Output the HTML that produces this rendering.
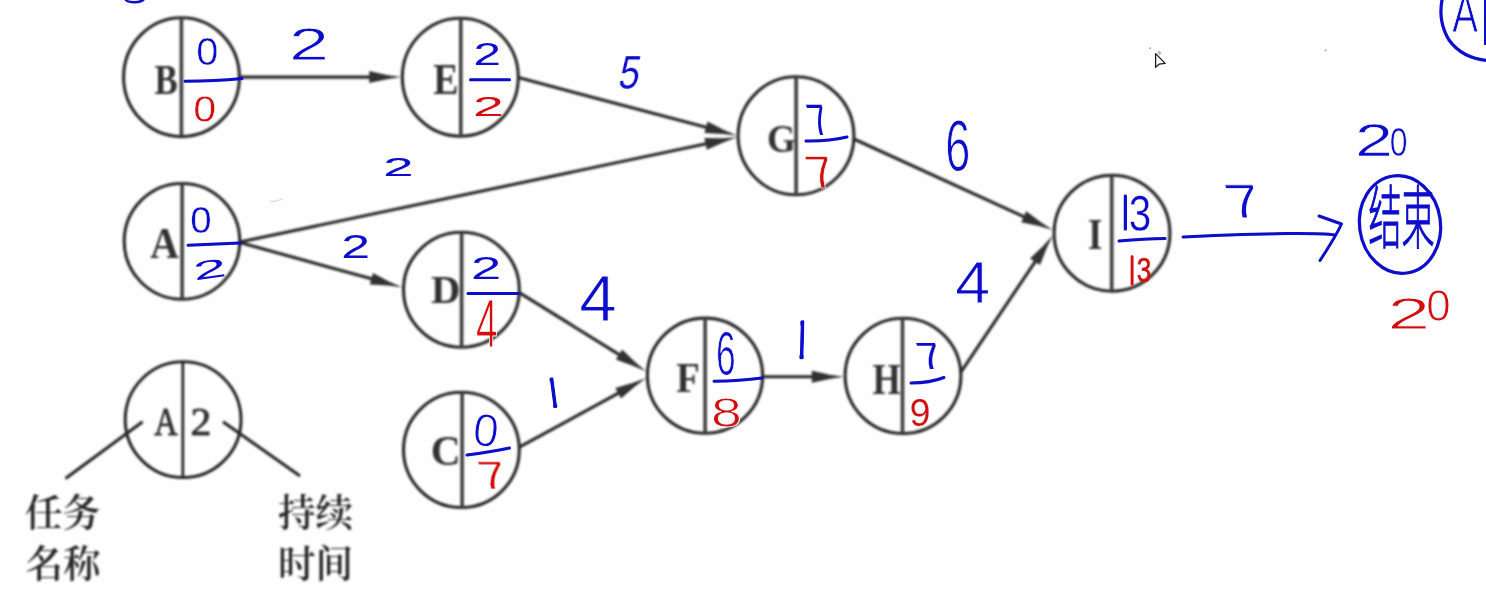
<!DOCTYPE html>
<html lang="zh">
<head>
<meta charset="utf-8">
<title>Activity network</title>
<style>
html,body{margin:0;padding:0;background:#fefefe;}
body{width:1486px;height:606px;overflow:hidden;}
svg{display:block;}
</style>
</head>
<body>
<svg width="1486" height="606" viewBox="0 0 1486 606">
<defs>
<filter id="soft" x="0" y="0" width="1486" height="606" filterUnits="userSpaceOnUse"><feGaussianBlur stdDeviation="0.95"/></filter>
<filter id="soft2" x="0" y="0" width="1486" height="606" filterUnits="userSpaceOnUse"><feGaussianBlur stdDeviation="0.4"/></filter>
</defs>
<rect width="1486" height="606" fill="#fefefe"/>
<g id="diagram" filter="url(#soft)">
<ellipse cx="181.5" cy="77.2" rx="57.9" ry="59.4" fill="none" stroke="#262626" stroke-width="3.1"/>
<line x1="181.4" y1="17.8" x2="181.4" y2="136.6" stroke="#3c3c3c" stroke-width="3.6" stroke-linecap="butt"/>
<ellipse cx="460.3" cy="77.2" rx="58.0" ry="59.0" fill="none" stroke="#262626" stroke-width="3.1"/>
<line x1="460.8" y1="18.2" x2="460.8" y2="136.2" stroke="#3c3c3c" stroke-width="3.6" stroke-linecap="butt"/>
<ellipse cx="182.0" cy="241.35" rx="57.8" ry="57.85" fill="none" stroke="#262626" stroke-width="3.1"/>
<line x1="182.1" y1="183.5" x2="182.1" y2="299.2" stroke="#3c3c3c" stroke-width="3.6" stroke-linecap="butt"/>
<ellipse cx="461.4" cy="289.7" rx="57.9" ry="57.5" fill="none" stroke="#262626" stroke-width="3.1"/>
<line x1="461.6" y1="232.2" x2="461.6" y2="347.2" stroke="#3c3c3c" stroke-width="3.6" stroke-linecap="butt"/>
<ellipse cx="796.0" cy="135.8" rx="57.9" ry="59.0" fill="none" stroke="#262626" stroke-width="3.1"/>
<line x1="796.1" y1="76.8" x2="796.1" y2="194.8" stroke="#3c3c3c" stroke-width="3.6" stroke-linecap="butt"/>
<ellipse cx="705.0" cy="375.65" rx="57.6" ry="57.55" fill="none" stroke="#262626" stroke-width="3.1"/>
<line x1="705.1" y1="318.1" x2="705.1" y2="433.2" stroke="#3c3c3c" stroke-width="3.6" stroke-linecap="butt"/>
<ellipse cx="903.0" cy="375.85" rx="57.9" ry="57.65" fill="none" stroke="#262626" stroke-width="3.1"/>
<line x1="902.5" y1="318.2" x2="902.5" y2="433.5" stroke="#3c3c3c" stroke-width="3.6" stroke-linecap="butt"/>
<ellipse cx="1112.0" cy="233.2" rx="57.9" ry="58.0" fill="none" stroke="#262626" stroke-width="3.1"/>
<line x1="1111.7" y1="175.2" x2="1111.7" y2="291.2" stroke="#3c3c3c" stroke-width="3.6" stroke-linecap="butt"/>
<ellipse cx="461.4" cy="449.85" rx="57.9" ry="57.65" fill="none" stroke="#262626" stroke-width="3.1"/>
<line x1="462.1" y1="392.2" x2="462.1" y2="507.5" stroke="#3c3c3c" stroke-width="3.6" stroke-linecap="butt"/>
<ellipse cx="183.1" cy="419.65" rx="57.9" ry="57.85" fill="none" stroke="#262626" stroke-width="3.1"/>
<line x1="182.8" y1="361.8" x2="182.8" y2="477.5" stroke="#262626" stroke-width="2.8" stroke-linecap="butt"/>
<line x1="142.6" y1="421.8" x2="65.5" y2="478.6" stroke="#262626" stroke-width="3.1" stroke-linecap="butt"/>
<line x1="223" y1="421.8" x2="300" y2="476" stroke="#262626" stroke-width="3.1" stroke-linecap="butt"/>
<line x1="239.4" y1="77.1" x2="372.2" y2="77.1" stroke="#262626" stroke-width="3.1" stroke-linecap="butt"/>
<polygon points="401.2,77.1 386.8,79.26 369.2,83.1 369.2,71.1 386.8,74.94" fill="#303030"/>
<line x1="518.4" y1="77.6" x2="708.87" y2="128.07" stroke="#262626" stroke-width="3.1" stroke-linecap="butt"/>
<polygon points="736.9,135.5 722.43,133.9 704.43,133.1 707.5,121.5 723.53,129.72" fill="#303030"/>
<line x1="239.8" y1="242.0" x2="708.52" y2="143.28" stroke="#262626" stroke-width="3.1" stroke-linecap="butt"/>
<polygon points="736.9,137.3 723.25,142.38 706.82,149.77 704.35,138.02 722.36,138.15" fill="#303030"/>
<line x1="239.8" y1="242.6" x2="374.24" y2="279.6" stroke="#262626" stroke-width="3.1" stroke-linecap="butt"/>
<polygon points="402.2,287.3 387.74,285.56 369.76,284.59 372.94,273.02 388.89,281.4" fill="#303030"/>
<line x1="519.3" y1="292.6" x2="621.56" y2="356.1" stroke="#262626" stroke-width="3.1" stroke-linecap="butt"/>
<polygon points="646.2,371.4 632.83,365.64 615.85,359.62 622.18,349.42 635.11,361.97" fill="#303030"/>
<line x1="519.3" y1="447.2" x2="620.74" y2="391.88" stroke="#262626" stroke-width="3.1" stroke-linecap="butt"/>
<polygon points="646.2,378.0 634.59,386.79 620.98,398.59 615.23,388.05 632.52,383.0" fill="#303030"/>
<line x1="762.6" y1="376.8" x2="814.8" y2="376.8" stroke="#262626" stroke-width="3.1" stroke-linecap="butt"/>
<polygon points="843.8,376.8 829.4,378.96 811.8,382.8 811.8,370.8 829.4,374.64" fill="#303030"/>
<line x1="853.9" y1="139.0" x2="1026.43" y2="217.93" stroke="#262626" stroke-width="3.1" stroke-linecap="butt"/>
<polygon points="1052.8,230.0 1038.81,225.97 1021.2,222.14 1026.2,211.23 1040.6,222.04" fill="#303030"/>
<line x1="960.9" y1="372.2" x2="1036.73" y2="259.28" stroke="#262626" stroke-width="3.1" stroke-linecap="butt"/>
<polygon points="1052.9,235.2 1046.67,248.36 1040.04,265.11 1030.08,258.42 1043.08,245.95" fill="#303030"/>
<text transform="translate(165.85 79.8) scale(0.3489 0.4316) translate(-32.8 32.6)" font-size="100" font-family='"Liberation Serif", serif' font-weight="bold" fill="#303030">B</text>
<text transform="translate(445.15 79.85) scale(0.379 0.4351) translate(-31.65 32.75)" font-size="100" font-family='"Liberation Serif", serif' font-weight="bold" fill="#303030">E</text>
<text transform="translate(164.7 243.2) scale(0.3972 0.4394) translate(-36.25 33.0)" font-size="100" font-family='"Liberation Serif", serif' font-weight="bold" fill="#303030">A</text>
<text transform="translate(445.05 289.45) scale(0.4076 0.4033) translate(-34.55 32.65)" font-size="100" font-family='"Liberation Serif", serif' font-weight="bold" fill="#303030">D</text>
<text transform="translate(781.8 139.1) scale(0.3709 0.4048) translate(-39.95 32.6)" font-size="100" font-family='"Liberation Serif", serif' font-weight="bold" fill="#303030">G</text>
<text transform="translate(687.5 378.45) scale(0.3846 0.4137) translate(-29.0 32.75)" font-size="100" font-family='"Liberation Serif", serif' font-weight="bold" fill="#303030">F</text>
<text transform="translate(886.5 379.25) scale(0.3629 0.4382) translate(-38.9 32.75)" font-size="100" font-family='"Liberation Serif", serif' font-weight="bold" fill="#303030">H</text>
<text transform="translate(1095.1 234.95) scale(0.3676 0.4351) translate(-19.45 32.75)" font-size="100" font-family='"Liberation Serif", serif' font-weight="bold" fill="#303030">I</text>
<text transform="translate(445.3 450.85) scale(0.4154 0.4241) translate(-34.75 32.6)" font-size="100" font-family='"Liberation Serif", serif' font-weight="bold" fill="#303030">C</text>
<text transform="translate(165.9 422.0) scale(0.3248 0.3924) translate(-36.25 33.0)" font-size="100" font-family='"Liberation Serif", serif' font-weight="normal" fill="#303030" stroke="#303030" stroke-width="0.9" vector-effect="non-scaling-stroke" stroke-linejoin="round">A</text>
<text transform="translate(200.8 422.0) scale(0.4165 0.3912) translate(-24.45 33.1)" font-size="100" font-family='"Liberation Serif", serif' font-weight="normal" fill="#303030" stroke="#303030" stroke-width="0.9" vector-effect="non-scaling-stroke" stroke-linejoin="round">2</text>
<text x="25" y="526" font-size="37.6" font-family='"Liberation Serif", "Noto Serif CJK SC", serif' font-weight="600" fill="#262626">任务</text>
<text x="25.5" y="577" font-size="37.6" font-family='"Liberation Serif", "Noto Serif CJK SC", serif' font-weight="600" fill="#262626">名称</text>
<text x="278" y="526" font-size="37.6" font-family='"Liberation Serif", "Noto Serif CJK SC", serif' font-weight="600" fill="#262626">持续</text>
<text x="278" y="577" font-size="37.6" font-family='"Liberation Serif", "Noto Serif CJK SC", serif' font-weight="600" fill="#262626">时间</text>
</g>
<g id="ink" filter="url(#soft2)">
<path d="M185 81.2 Q215 81 242 78.4" fill="none" stroke="#0808cc" stroke-width="3.0" stroke-linecap="round" stroke-linejoin="round"/>
<path d="M470.5 79.7 L509.5 79.7" fill="none" stroke="#0808cc" stroke-width="3.0" stroke-linecap="round" stroke-linejoin="round"/>
<path d="M188 245.2 Q215 244 240 243" fill="none" stroke="#0808cc" stroke-width="3.0" stroke-linecap="round" stroke-linejoin="round"/>
<path d="M468 293.6 L518 293.6" fill="none" stroke="#0808cc" stroke-width="3.0" stroke-linecap="round" stroke-linejoin="round"/>
<path d="M806 141 Q828 141.5 847 137" fill="none" stroke="#0808cc" stroke-width="3.0" stroke-linecap="round" stroke-linejoin="round"/>
<path d="M714 381.2 Q740 381 762 378" fill="none" stroke="#0808cc" stroke-width="3.0" stroke-linecap="round" stroke-linejoin="round"/>
<path d="M911 383 Q930 383 944 377.5" fill="none" stroke="#0808cc" stroke-width="3.0" stroke-linecap="round" stroke-linejoin="round"/>
<path d="M1119 241 Q1145 239 1165 238.6" fill="none" stroke="#0808cc" stroke-width="3.0" stroke-linecap="round" stroke-linejoin="round"/>
<path d="M467 455 Q490 452 509.5 448" fill="none" stroke="#0808cc" stroke-width="3.0" stroke-linecap="round" stroke-linejoin="round"/>
<text transform="translate(207.25 51.5) scale(0.3979 0.3887) translate(-27.8 34.4)" font-size="100" font-family='"Liberation Sans", sans-serif' font-weight="normal" fill="#0808cc" stroke="#fefefe" stroke-width="0.52" vector-effect="non-scaling-stroke" stroke-linejoin="round">0</text>
<text transform="translate(204.85 109.05) rotate(3) scale(0.4086 0.3606) translate(-27.8 34.4)" font-size="100" font-family='"Liberation Sans", sans-serif' font-weight="normal" fill="#d40a0a" stroke="#fefefe" stroke-width="0.43" vector-effect="non-scaling-stroke" stroke-linejoin="round">0</text>
<text transform="translate(308.9 43.95) scale(0.7193 0.457) translate(-27.8 34.9)" font-size="100" font-family='"Liberation Sans", sans-serif' font-weight="normal" fill="#0808cc" stroke="#fefefe" stroke-width="1.0" vector-effect="non-scaling-stroke" stroke-linejoin="round">2</text>
<text transform="translate(487.25 53.9) scale(0.4925 0.3117) translate(-27.8 34.9)" font-size="100" font-family='"Liberation Sans", sans-serif' font-weight="normal" fill="#0808cc">2</text>
<text transform="translate(488.35 106.4) scale(0.5547 0.2836) translate(-27.8 34.9)" font-size="100" font-family='"Liberation Sans", sans-serif' font-weight="normal" fill="#d40a0a">2</text>
<text transform="translate(630.3 72.35) skewX(-10) scale(0.3741 0.48) translate(-27.7 33.9)" font-size="100" font-family='"Liberation Sans", sans-serif' font-weight="normal" fill="#0808cc" stroke="#fefefe" stroke-width="0.21" vector-effect="non-scaling-stroke" stroke-linejoin="round">5</text>
<text transform="translate(398.5 166.55) scale(0.5446 0.2598) translate(-27.8 34.9)" font-size="100" font-family='"Liberation Sans", sans-serif' font-weight="normal" fill="#0808cc" stroke="#0808cc" stroke-width="0.17" vector-effect="non-scaling-stroke" stroke-linejoin="round">2</text>
<text transform="translate(201.0 220.2) scale(0.3839 0.3665) translate(-27.8 34.4)" font-size="100" font-family='"Liberation Sans", sans-serif' font-weight="normal" fill="#0808cc" stroke="#fefefe" stroke-width="0.35" vector-effect="non-scaling-stroke" stroke-linejoin="round">0</text>
<text transform="translate(209.65 269.1) rotate(-8) scale(0.5982 0.2604) translate(-27.8 34.9)" font-size="100" font-family='"Liberation Sans", sans-serif' font-weight="normal" fill="#0808cc">2</text>
<text transform="translate(355.55 246.8) scale(0.5179 0.3283) translate(-27.8 34.9)" font-size="100" font-family='"Liberation Sans", sans-serif' font-weight="normal" fill="#0808cc">2</text>
<text transform="translate(486.15 268.05) scale(0.5435 0.3063) translate(-27.8 34.9)" font-size="100" font-family='"Liberation Sans", sans-serif' font-weight="normal" fill="#0808cc">2</text>
<text transform="translate(486.7 323.0) scale(0.3889 0.689) translate(-27.5 34.4)" font-size="100" font-family='"Liberation Sans", sans-serif' font-weight="normal" fill="#d40a0a" stroke="#fefefe" stroke-width="1.0" vector-effect="non-scaling-stroke" stroke-linejoin="round">4</text>
<text transform="translate(597.9 298.75) scale(0.6746 0.6555) translate(-27.5 34.4)" font-size="100" font-family='"Liberation Sans", sans-serif' font-weight="normal" fill="#0808cc" stroke="#fefefe" stroke-width="1.0" vector-effect="non-scaling-stroke" stroke-linejoin="round">4</text>
<text transform="translate(818.67 119.65) skewX(18) scale(0.3406 0.4404) translate(-27.85 34.4)" font-size="100" font-family='"Liberation Sans", sans-serif' font-weight="normal" fill="#0808cc">7</text>
<text transform="translate(820.94 172.3) skewX(18) scale(0.4853 0.4605) translate(-27.85 34.4)" font-size="100" font-family='"Liberation Sans", sans-serif' font-weight="normal" fill="#d40a0a" stroke="#fefefe" stroke-width="0.68" vector-effect="non-scaling-stroke" stroke-linejoin="round">7</text>
<text transform="translate(957.9 146.05) scale(0.4512 0.7133) translate(-28.15 34.4)" font-size="100" font-family='"Liberation Sans", sans-serif' font-weight="normal" fill="#0808cc" stroke="#fefefe" stroke-width="1.0" vector-effect="non-scaling-stroke" stroke-linejoin="round">6</text>
<text transform="translate(972.5 283.0) scale(0.6349 0.5959) translate(-27.5 34.4)" font-size="100" font-family='"Liberation Sans", sans-serif' font-weight="normal" fill="#0808cc" stroke="#fefefe" stroke-width="1.0" vector-effect="non-scaling-stroke" stroke-linejoin="round">4</text>
<clipPath id="pen1"><rect x="-2.1" y="-19.85" width="4.2" height="39.7" rx="1.8"/></clipPath>
<g transform="translate(802.0 339.85) rotate(1.5)" clip-path="url(#pen1)"><text transform="scale(0.4091 0.5683) translate(-29.5 34.4)" font-size="100" font-family='"Liberation Sans", sans-serif' font-weight="normal" fill="#0808cc">1</text></g>
<text transform="translate(726.0 353.85) scale(0.3534 0.6242) translate(-28.15 34.4)" font-size="100" font-family='"Liberation Sans", sans-serif' font-weight="normal" fill="#0808cc" stroke="#fefefe" stroke-width="0.89" vector-effect="non-scaling-stroke" stroke-linejoin="round">6</text>
<text transform="translate(726.45 412.25) scale(0.5553 0.4223) translate(-27.8 34.4)" font-size="100" font-family='"Liberation Sans", sans-serif' font-weight="normal" fill="#d40a0a" stroke="#fefefe" stroke-width="1.0" vector-effect="non-scaling-stroke" stroke-linejoin="round">8</text>
<text transform="translate(929.87 356.3) skewX(18) scale(0.4123 0.3788) translate(-27.85 34.4)" font-size="100" font-family='"Liberation Sans", sans-serif' font-weight="normal" fill="#0808cc">7</text>
<text transform="translate(920.05 412.85) scale(0.3784 0.3938) translate(-27.8 34.4)" font-size="100" font-family='"Liberation Sans", sans-serif' font-weight="normal" fill="#d40a0a" stroke="#fefefe" stroke-width="0.18" vector-effect="non-scaling-stroke" stroke-linejoin="round">9</text>
<clipPath id="pen2"><rect x="1123.4" y="194.5" width="3.6" height="35.9" rx="1.5"/><rect x="1129.5" y="194.8" width="20.8" height="37.4"/></clipPath>
<g clip-path="url(#pen2)"><text font-family='"Liberation Sans", sans-serif' font-weight="normal" fill="#0808cc" stroke="#fefefe" stroke-width="0.37" stroke-linejoin="round"><tspan x="1113.13" y="239.58" font-size="79.8" textLength="22.75" lengthAdjust="spacingAndGlyphs">1</tspan><tspan x="1128.78" y="230.88" font-size="50.53" textLength="22.49" lengthAdjust="spacingAndGlyphs">3</tspan></text></g>
<clipPath id="pen3"><rect x="1130.4" y="255.2" width="3.4" height="30.4" rx="1.5"/><rect x="1136.5" y="256.0" width="15.0" height="28.0"/></clipPath>
<g clip-path="url(#pen3)"><text font-family='"Liberation Sans", sans-serif' font-weight="normal" fill="#d40a0a" stroke="#d40a0a" stroke-width="0.62" stroke-linejoin="round"><tspan x="1122.8" y="293.79" font-size="68.8" textLength="17.54" lengthAdjust="spacingAndGlyphs">1</tspan><tspan x="1136.82" y="282.33" font-size="35.84" textLength="14.52" lengthAdjust="spacingAndGlyphs">3</tspan></text></g>
<text transform="translate(1243.47 201.7) skewX(16) scale(0.622 0.4826) translate(-27.85 34.4)" font-size="100" font-family='"Liberation Sans", sans-serif' font-weight="normal" fill="#0808cc" stroke="#fefefe" stroke-width="1.0" vector-effect="non-scaling-stroke" stroke-linejoin="round">7</text>
<clipPath id="pen4"><rect x="-2.1" y="-15.8" width="4.2" height="31.6" rx="1.8"/></clipPath>
<g transform="translate(553.4 392.7) rotate(-7.5)" clip-path="url(#pen4)"><text transform="scale(0.4091 0.4506) translate(-29.5 34.4)" font-size="100" font-family='"Liberation Sans", sans-serif' font-weight="normal" fill="#0808cc">1</text></g>
<text transform="translate(486.1 430.2) rotate(6) scale(0.4561 0.4605) translate(-27.8 34.4)" font-size="100" font-family='"Liberation Sans", sans-serif' font-weight="normal" fill="#0808cc" stroke="#fefefe" stroke-width="1.0" vector-effect="non-scaling-stroke" stroke-linejoin="round">0</text>
<text transform="translate(492.33 475.25) skewX(14) scale(0.4833 0.3937) translate(-27.85 34.4)" font-size="100" font-family='"Liberation Sans", sans-serif' font-weight="normal" fill="#d40a0a" stroke="#fefefe" stroke-width="0.39" vector-effect="non-scaling-stroke" stroke-linejoin="round">7</text>
<text font-family='"Liberation Sans", sans-serif' font-weight="normal" fill="#0808cc" stroke="#fefefe" stroke-width="0.66" stroke-linejoin="round"><tspan x="1355.05" y="156.43" font-size="46.08" textLength="37.99" lengthAdjust="spacingAndGlyphs">2</tspan><tspan x="1389.82" y="156.22" font-size="41.47" textLength="17.75" lengthAdjust="spacingAndGlyphs">0</tspan></text>
<text font-family='"Liberation Sans", sans-serif' font-weight="normal" fill="#d40a0a" stroke="#fefefe" stroke-width="1.0" stroke-linejoin="round"><tspan x="1387.22" y="329.0" font-size="45.13" textLength="43.16" lengthAdjust="spacingAndGlyphs">2</tspan><tspan x="1426.29" y="320.76" font-size="44.49" textLength="24.43" lengthAdjust="spacingAndGlyphs">0</tspan></text>
<path d="M1183 237 Q1250 234 1286 233.6 T1335 235" fill="none" stroke="#0808cc" stroke-width="3.0" stroke-linecap="round" stroke-linejoin="round"/>
<path d="M1319 216 L1341.5 224 Q1336 236 1320 260.5" fill="none" stroke="#0808cc" stroke-width="3.0" stroke-linecap="round" stroke-linejoin="round"/>
<ellipse cx="1400" cy="224.5" rx="40.5" ry="49" fill="none" stroke="#0808cc" stroke-width="3.2" transform="rotate(-8 1400 224.5)"/>
<text transform="translate(1401.5 243) scale(0.66 1.38)" text-anchor="middle" font-size="50" font-weight="300" stroke="#0808cc" stroke-width="0.9" vector-effect="non-scaling-stroke" font-family='"Liberation Sans", "Noto Sans CJK SC", sans-serif' fill="#0808cc">结束</text>
<circle cx="1325.6" cy="50.3" r="1.1" fill="#a9a9cf"/>
<path d="M1442 0 Q1438 22 1449 40 Q1462 58 1487 60.5" fill="none" stroke="#0808cc" stroke-width="3.2" stroke-linecap="round" stroke-linejoin="round"/>
<text transform="translate(1465.05 12.7) scale(0.3859 0.5565) translate(-33.35 34.4)" font-size="100" font-family='"Liberation Sans", sans-serif' font-weight="normal" fill="#0808cc" stroke="#fefefe" stroke-width="0.89" vector-effect="non-scaling-stroke" stroke-linejoin="round">A</text>
<line x1="1485.5" y1="0" x2="1485.5" y2="45" stroke="#0808cc" stroke-width="3" stroke-linecap="butt"/>
<path d="M124.5 -2 Q125.5 2.2 134 2.2 Q143 2.2 144.5 -2" fill="none" stroke="#0808cc" stroke-width="2.4" stroke-linecap="round" stroke-linejoin="round"/>
</g>
<path d="M1155.6 53.6 L1155.6 67.4 L1159 64.2 L1165.2 63.4 Z" fill="#fff" stroke="#1a1a1a" stroke-width="1.3" stroke-linejoin="round"/>
<path d="M1157 52.8 l2.2 -2.2 l2.4 2.4 l-2 2.2 z" fill="#bdbdbd"/>
<circle cx="1150.2" cy="48.2" r="0.9" fill="#9a9a9a"/>
<path d="M271 201.6 Q276 201.4 282 199.2" fill="none" stroke="#dcdcf6" stroke-width="1.6" stroke-linecap="round"/>
</svg>
</body>
</html>
